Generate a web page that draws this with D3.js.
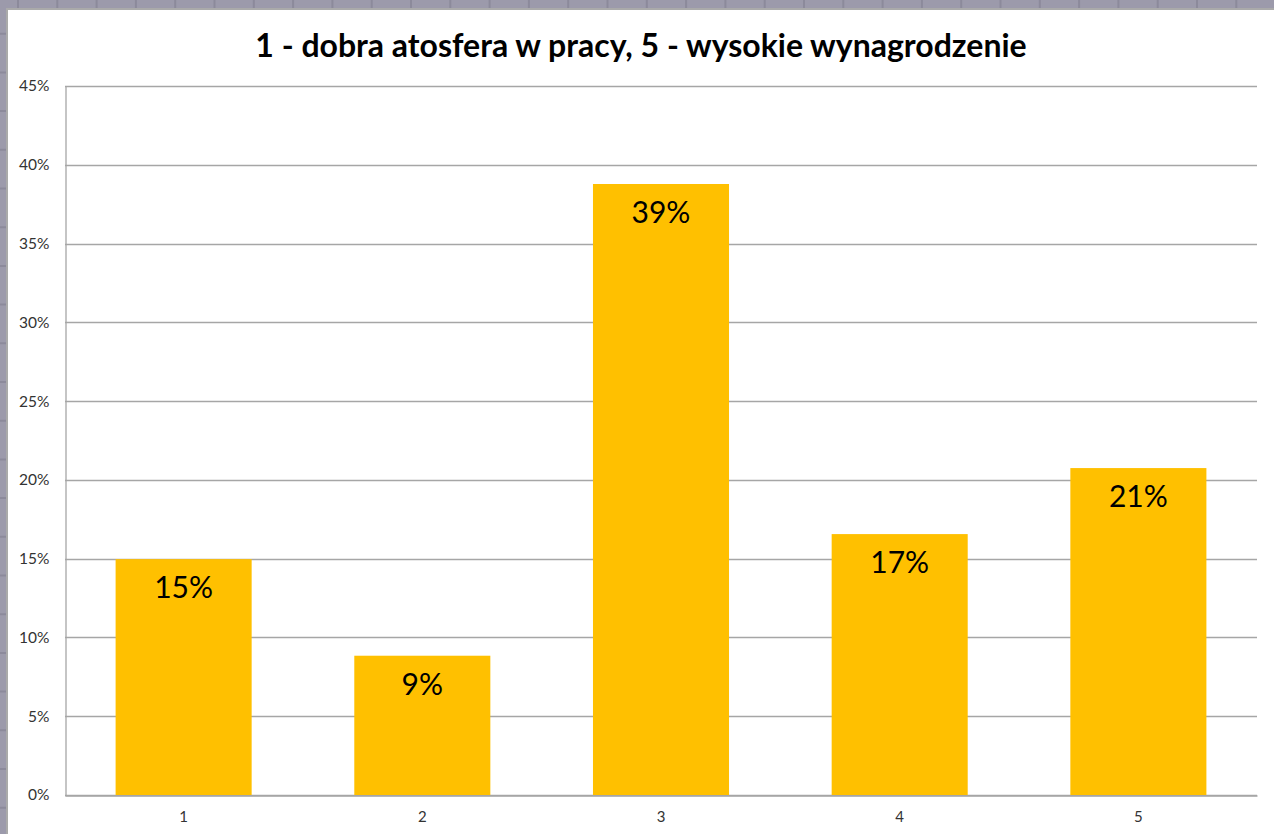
<!DOCTYPE html>
<html>
<head>
<meta charset="utf-8">
<script src="https://cdn.jsdelivr.net/npm/d3@7"></script>
<style>
  html, body { margin: 0; padding: 0; background: #9c9aab; }
  svg { display: block; }
</style>
</head>
<body>
<svg id="chart" width="1274" height="834"></svg>
<script>
const title = "1 - dobra atosfera w pracy, 5 - wysokie wynagrodzenie";
const categories = ["1", "2", "3", "4", "5"];
const values = [0.1497, 0.0884, 0.3878, 0.1656, 0.2075];
const yTicks = [0, 0.05, 0.10, 0.15, 0.20, 0.25, 0.30, 0.35, 0.40, 0.45];

const W = 1274, H = 834;
const svg = d3.select("#chart");

// spreadsheet background
const bg = svg.append("g");
bg.append("rect").attr("width", W).attr("height", H).attr("fill", "#9c9aab");
const colW = 39.3, rowH = 38.7;
for (let x = 18; x < W; x += colW) {
  bg.append("line").attr("x1", x).attr("x2", x).attr("y1", 0).attr("y2", H)
    .attr("stroke", "#8c8a9b").attr("stroke-width", 2);
}
for (let y = -5; y < H; y += rowH) {
  bg.append("line").attr("x1", 0).attr("x2", W).attr("y1", y).attr("y2", y)
    .attr("stroke", "#8c8a9b").attr("stroke-width", 2);
}

// chart frame
svg.append("rect").attr("x", 7).attr("y", 9).attr("width", W).attr("height", H)
  .attr("fill", "#ffffff").attr("stroke", "#aaaaaa").attr("stroke-width", 2);

const plot = { left: 65, right: 1257, top: 86, bottom: 795 };

const x = d3.scaleBand().domain(categories)
  .range([plot.left, plot.right]).paddingInner(0.43).paddingOuter(0.212);
const y = d3.scaleLinear().domain([0, 0.45]).range([plot.bottom, plot.top]);

// gridlines
svg.append("g").selectAll("line").data(yTicks).join("line")
  .attr("x1", plot.left).attr("x2", plot.right)
  .attr("y1", d => Math.round(y(d)) + 0.5).attr("y2", d => Math.round(y(d)) + 0.5)
  .attr("stroke", "#a6a6a6").attr("stroke-width", 1.3);

// y axis
const yAxis = d3.axisLeft(y).tickValues(yTicks).tickFormat(d3.format(".0%")).tickSize(0).tickPadding(16);
const gy = svg.append("g").attr("transform", `translate(${plot.left + 0.5},0)`).call(yAxis);
gy.select(".domain").attr("stroke", "#a6a6a6").attr("stroke-width", 1.3);
gy.selectAll("text").attr("font-family", "Lato, 'Open Sans', sans-serif")
  .attr("font-size", 15.5).attr("fill", "#333333");

// bars
svg.append("g").selectAll("rect").data(values).join("rect")
  .attr("x", (d, i) => x(categories[i]))
  .attr("width", x.bandwidth())
  .attr("y", d => y(d))
  .attr("height", d => plot.bottom - y(d))
  .attr("fill", "#ffc000");

// x axis
const xAxis = d3.axisBottom(x).tickSize(0).tickPadding(16);
const gx = svg.append("g").attr("transform", `translate(0,${plot.bottom + 0.5})`).call(xAxis);
gx.select(".domain").attr("stroke", "#a6a6a6").attr("stroke-width", 1.3);
gx.selectAll("text").attr("font-family", "Lato, 'Open Sans', sans-serif")
  .attr("font-size", 15).attr("fill", "#333333");

// data labels
svg.append("g").selectAll("text").data(values).join("text")
  .attr("x", (d, i) => x(categories[i]) + x.bandwidth() / 2)
  .attr("y", d => y(d) + 39)
  .attr("text-anchor", "middle")
  .attr("font-family", "Lato, 'Open Sans', sans-serif")
  .attr("font-size", 30)
  .attr("fill", "#000000")
  .text(d => d3.format(".0%")(d));

// title
svg.append("text")
  .attr("x", 641).attr("y", 57)
  .attr("text-anchor", "middle")
  .attr("font-family", "Lato, 'Open Sans', sans-serif")
  .attr("font-weight", "bold")
  .attr("font-size", 32)
  .attr("fill", "#000000")
  .text(title);
</script>
</body>
</html>
